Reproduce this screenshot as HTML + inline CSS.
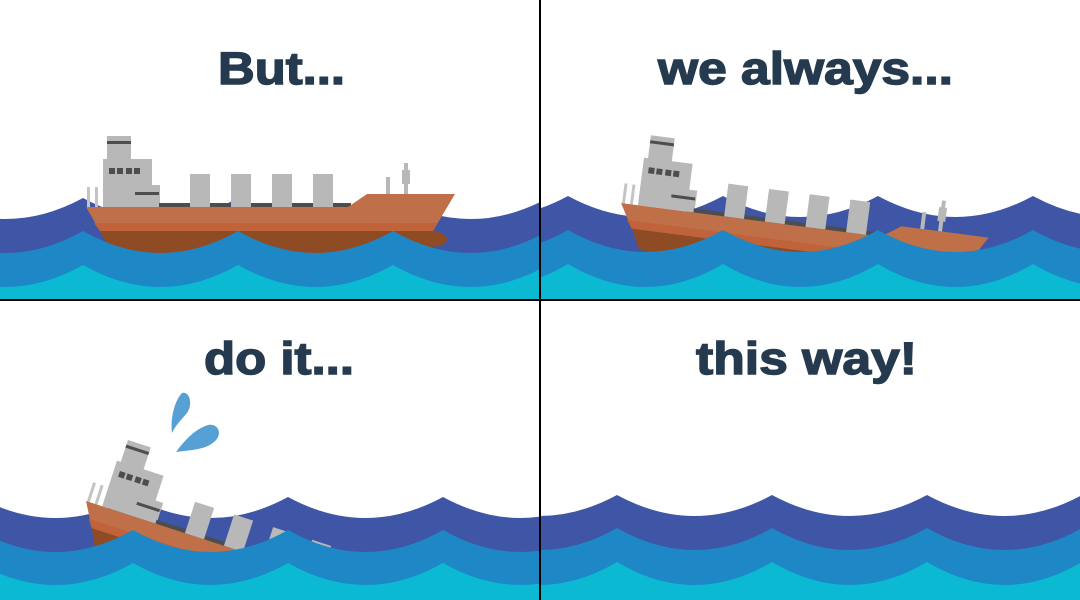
<!DOCTYPE html>
<html><head><meta charset="utf-8"><style>
html,body{margin:0;padding:0;background:#fff;width:1080px;height:600px;overflow:hidden}
svg{display:block;overflow:hidden}
text{font-family:"Liberation Sans",sans-serif;font-weight:bold;fill:#253a4f;stroke:#253a4f;stroke-width:1.4px}
</style></head><body>
<svg width="1080" height="600" viewBox="0 0 1080 600" xmlns="http://www.w3.org/2000/svg">
<defs>
<clipPath id="c1"><rect x="0" y="0" width="540" height="300"/></clipPath>
<clipPath id="c2"><rect x="540" y="0" width="540" height="300"/></clipPath>
<clipPath id="c3"><rect x="0" y="300" width="540" height="300"/></clipPath>
<clipPath id="c4"><rect x="540" y="300" width="540" height="300"/></clipPath>
<g id="ship">
<g transform="translate(-86,-207)">
<rect x="87" y="187" width="3" height="20" fill="#c4c4c4"/>
<rect x="95" y="187" width="3" height="20" fill="#c4c4c4"/>
<rect x="107" y="136" width="24" height="25" fill="#b8b8b8"/>
<rect x="107" y="141" width="24" height="3" fill="#4d4d4d"/>
<rect x="103" y="159" width="49" height="48" fill="#b8b8b8"/>
<rect x="151" y="185" width="9" height="22" fill="#b8b8b8"/>
<rect x="109" y="168" width="6" height="6" fill="#4d4d4d"/>
<rect x="117" y="168" width="6" height="6" fill="#4d4d4d"/>
<rect x="126" y="168" width="6" height="6" fill="#4d4d4d"/>
<rect x="134" y="168" width="6" height="6" fill="#4d4d4d"/>
<rect x="135" y="192" width="24" height="3" fill="#4d4d4d"/>
<rect x="159" y="203" width="192" height="4" fill="#4d4d4d"/>
<rect x="190" y="174" width="20" height="33" fill="#b8b8b8"/>
<rect x="231" y="174" width="20" height="33" fill="#b8b8b8"/>
<rect x="272" y="174" width="20" height="33" fill="#b8b8b8"/>
<rect x="313" y="174" width="20" height="33" fill="#b8b8b8"/>
<rect x="386" y="177" width="4" height="17" fill="#b8b8b8"/>
<rect x="404" y="163" width="4" height="31" fill="#b8b8b8"/>
<rect x="402" y="170" width="8" height="14" fill="#b8b8b8"/>
<path d="M100,231 L436,231 Q456,238 440,246 Q300,260 110,251 Z" fill="#8f4b24"/>
<polygon points="86,207 348,207 367,194 455,194 433,231 100,231" fill="#c07048"/>
<polygon points="94,223 437,223 433,231 100,231" fill="#c0623a"/>
</g>
</g>
</defs>

<g clip-path="url(#c1)">
<path fill="#3f55a5" d="M-72,198 q77.5,42 155,0 q77.5,42 155,0 q77.5,42 155,0 q77.5,42 155,0 q77.5,42 155,0 V300 H-72 Z"/>
<use href="#ship" transform="translate(86,207)"/>
<path fill="#1e87c6" d="M-72,231 q77.5,44 155,0 q77.5,44 155,0 q77.5,44 155,0 q77.5,44 155,0 q77.5,44 155,0 V300 H-72 Z"/>
<path fill="#0bbad2" d="M-72,265 q77.5,44 155,0 q77.5,44 155,0 q77.5,44 155,0 q77.5,44 155,0 q77.5,44 155,0 V300 H-72 Z"/>
</g>
<text x="218" y="84" font-size="45" textLength="127" lengthAdjust="spacingAndGlyphs">But...</text>

<g clip-path="url(#c2)">
<path fill="#3f55a5" d="M413,196 q77.5,42 155,0 q77.5,42 155,0 q77.5,42 155,0 q77.5,42 155,0 q77.5,42 155,0 V300 H413 Z"/>
<use href="#ship" transform="translate(621,203) rotate(7.4)"/>
<path fill="#1e87c6" d="M413,230 q77.5,44 155,0 q77.5,44 155,0 q77.5,44 155,0 q77.5,44 155,0 q77.5,44 155,0 V300 H413 Z"/>
<path fill="#0bbad2" d="M413,264 q77.5,46 155,0 q77.5,46 155,0 q77.5,46 155,0 q77.5,46 155,0 q77.5,46 155,0 V300 H413 Z"/>
</g>
<text x="658" y="84" font-size="45" textLength="295" lengthAdjust="spacingAndGlyphs">we always...</text>

<g clip-path="url(#c3)">
<path fill="#3f55a5" d="M-22,497 q77.5,42 155,0 q77.5,42 155,0 q77.5,42 155,0 q77.5,42 155,0 V600 H-22 Z"/>
<use href="#ship" transform="translate(86,501) rotate(18)"/>
<path fill="#1e87c6" d="M-22,530 q77.5,44 155,0 q77.5,44 155,0 q77.5,44 155,0 q77.5,44 155,0 V600 H-22 Z"/>
<path fill="#0bbad2" d="M-22,563 q77.5,44 155,0 q77.5,44 155,0 q77.5,44 155,0 q77.5,44 155,0 V600 H-22 Z"/>
<path fill="#56a0d6" d="M172,433 C170,418 175,400 182,393 C190,391 193,405 187,413 C181,420 175,426 172,433Z"/>
<path fill="#56a0d6" d="M176,452 C185,440 195,429 208,425 C219,423 223,435 214,442 C205,450 190,450 176,452Z"/>
</g>
<text x="204" y="374" font-size="45" textLength="150" lengthAdjust="spacingAndGlyphs">do it...</text>

<g clip-path="url(#c4)">
<path fill="#3f55a5" d="M462,495 q77.5,42 155,0 q77.5,42 155,0 q77.5,42 155,0 q77.5,42 155,0 V600 H462 Z"/>
<path fill="#1e87c6" d="M462,528 q77.5,44 155,0 q77.5,44 155,0 q77.5,44 155,0 q77.5,44 155,0 V600 H462 Z"/>
<path fill="#0bbad2" d="M462,562 q77.5,46 155,0 q77.5,46 155,0 q77.5,46 155,0 q77.5,46 155,0 V600 H462 Z"/>
</g>
<text x="696" y="374" font-size="45" textLength="221" lengthAdjust="spacingAndGlyphs">this way!</text>

<rect x="539" y="0" width="2" height="600" fill="#000"/>
<rect x="0" y="299" width="1080" height="2" fill="#000"/>
</svg>
</body></html>
